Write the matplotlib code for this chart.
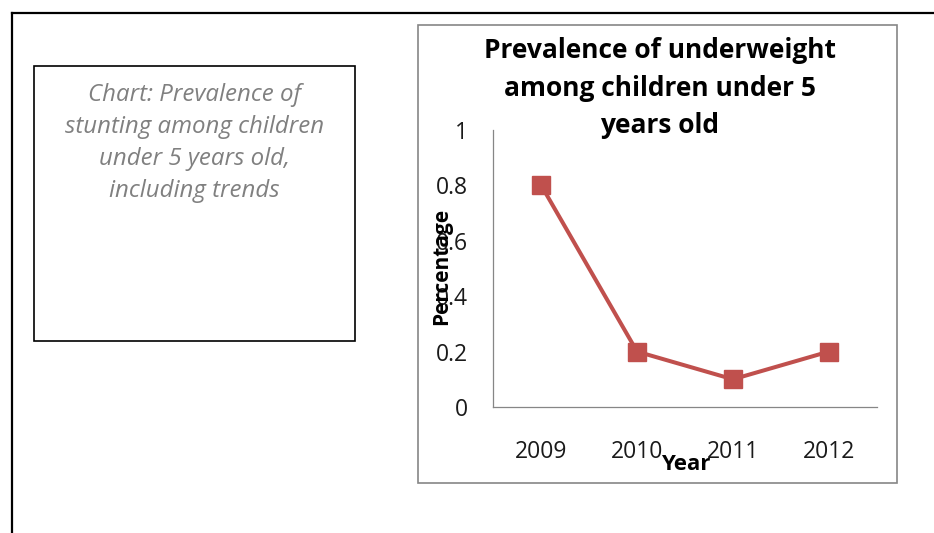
import matplotlib
matplotlib.use("Agg")
import matplotlib.pyplot as plt
from matplotlib.patches import Rectangle
from matplotlib.lines import Line2D

# ---- data ----
years = ["2009", "2010", "2011", "2012"]
values = [0.8, 0.2, 0.1, 0.2]
ytick_values = [0, 0.2, 0.4, 0.6, 0.8, 1.0]
ytick_labels = ["0", "0.2", "0.4", "0.6", "0.8", "1"]
title = "Prevalence of underweight\namong children under 5\nyears old"
xlabel = "Year"
ylabel = "Percentage"
placeholder = "Chart: Prevalence of\nstunting among children\nunder 5 years old,\nincluding trends"

W, H = 934, 533
plt.rcParams["font.family"] = ["Open Sans", "DejaVu Sans"]
fig = plt.figure(figsize=(W / 100, H / 100), dpi=100)


def fx(px):
    return px / W


def fy(py):
    return 1 - py / H


# outer frame (top and left edges)
fig.add_artist(Line2D([fx(12), fx(934)], [fy(13), fy(13)], color="black", lw=1.6))
fig.add_artist(Line2D([fx(12), fx(12)], [fy(13), fy(533)], color="black", lw=1.6))

# placeholder box
fig.add_artist(Rectangle((fx(34), fy(341)), fx(355) - fx(34), fy(66) - fy(341),
                         fill=False, edgecolor="black", lw=1.2))
fig.text(fx(194.5), fy(143), placeholder, ha="center", va="center",
         fontsize=17.3, style="italic", color="#808080", linespacing=1.45)

# chart area box
fig.add_artist(Rectangle((fx(418), fy(483)), fx(897) - fx(418), fy(25) - fy(483),
                         fill=False, edgecolor="#868686", lw=1.2))

# plot axes
ax = fig.add_axes([fx(493.3), fy(407), fx(876.7) - fx(493.3), fy(130) - fy(407)])
x = list(range(len(years)))
ax.plot(x, values, color="#C0504D", lw=2.9, marker="s", markersize=13,
        markerfacecolor="#C0504D", markeredgecolor="#C0504D")
ax.set_xlim(-0.5, len(years) - 0.5)
ax.set_ylim(0, 1)
ax.set_xticks(x)
ax.set_xticklabels(years)
ax.set_yticks(ytick_values)
ax.set_yticklabels(ytick_labels)
ax.tick_params(axis="both", length=0, labelsize=16.5, colors="#1a1a1a")
ax.tick_params(axis="y", pad=18.5)
ax.tick_params(axis="x", pad=24)
for s in ["top", "right"]:
    ax.spines[s].set_visible(False)
for s in ["left", "bottom"]:
    ax.spines[s].set_color("#868686")
    ax.spines[s].set_linewidth(0.9)

ax.set_ylabel(ylabel, fontsize=15, fontweight="bold", va="center")
ax.yaxis.set_label_coords((442 - 493.3) / 383.4, (407 - 266) / 277)
ax.set_xlabel(xlabel, fontsize=16, fontweight="bold", va="center")
ax.xaxis.set_label_coords((686 - 493.3) / 383.4, (407 - 464) / 277)

fig.text(fx(660), fy(88), title, ha="center", va="center", fontsize=19,
         fontweight="bold", color="black", linespacing=1.48)

fig.savefig("out.png", dpi=100)
